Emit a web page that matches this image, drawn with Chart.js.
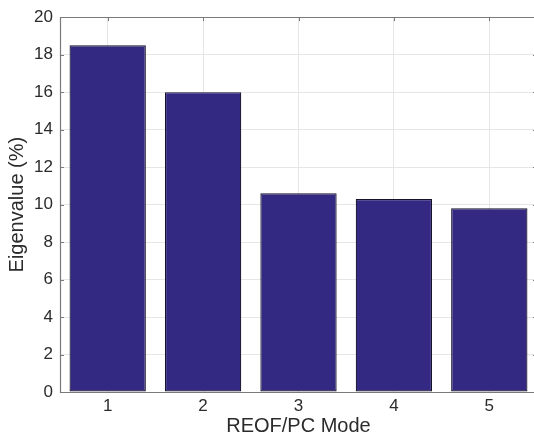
<!DOCTYPE html>
<html>
<head>
<meta charset="utf-8">
<script src="https://cdn.jsdelivr.net/npm/chart.js@4"></script>
<style>
html,body{margin:0;padding:0;overflow:hidden;background:#fff;}
#wrap{position:absolute;left:0;top:0;width:537px;height:441px;}
</style>
</head>
<body>
<div id="wrap"><canvas id="c"></canvas></div>
<script>
const categories = ['1', '2', '3', '4', '5'];
const eigenvalues = [18.5, 16.0, 10.6, 10.3, 9.8];
const yTicks = [0, 2, 4, 6, 8, 10, 12, 14, 16, 18, 20];
const xTitle = 'REOF/PC Mode';
const yTitle = 'Eigenvalue (%)';

const FONT = "'Liberation Sans', Arial, Helvetica, sans-serif";
const TXT = '#2b2b2b';
const FRAME = '#7a7a7a';

const framePlugin = {
  id: 'frame',
  afterDatasetsDraw(chart) {
    const {ctx, chartArea: a, scales: {x, y}} = chart;
    ctx.save();
    ctx.strokeStyle = FRAME;
    ctx.lineWidth = 1;
    ctx.beginPath();
    yTicks.forEach(v => {
      const py = Math.round(y.getPixelForValue(v)) + 0.5;
      ctx.moveTo(a.left, py); ctx.lineTo(a.left + 4, py);
      ctx.moveTo(a.right, py); ctx.lineTo(a.right - 4, py);
    });
    categories.forEach((c, i) => {
      const px = Math.round(x.getPixelForValue(i)) + 0.5;
      ctx.moveTo(px, a.top); ctx.lineTo(px, a.top + 4);
    });
    ctx.stroke();
    ctx.beginPath();
    ctx.lineWidth = 1.2;
    ctx.rect(Math.round(a.left) + 0.5, Math.round(a.top) + 0.5,
             Math.round(a.right - a.left), Math.round(a.bottom - a.top));
    ctx.stroke();
    ctx.restore();
  }
};

new Chart(document.getElementById('c'), {
  type: 'bar',
  data: {
    labels: categories,
    datasets: [{
      data: eigenvalues,
      backgroundColor: '#332983',
      borderColor: '#15122a',
      borderWidth: 1.2,
      borderSkipped: false,
      categoryPercentage: 0.8,
      barPercentage: 1.0
    }]
  },
  options: {
    responsive: true,
    maintainAspectRatio: false,
    animation: false,
    devicePixelRatio: 1,
    layout: {padding: {top: 14, right: 0, bottom: 0, left: 0}},
    plugins: {legend: {display: false}, tooltip: {enabled: false}},
    scales: {
      x: {
        grid: {display: true, color: '#e6e6e6', drawTicks: false, offset: false},
        border: {display: false},
        ticks: {color: TXT, font: {family: FONT, size: 17}, padding: 4, maxRotation: 0},
        title: {display: true, text: xTitle, color: TXT, font: {family: FONT, size: 20}, padding: {top: 3, bottom: 3}},
        afterFit(s) { s.height = 49; }
      },
      y: {
        min: 0, max: 20,
        afterBuildTicks(s) { s.ticks = yTicks.map(v => ({value: v})); },
        grid: {color: '#e6e6e6', drawTicks: false},
        border: {display: false},
        ticks: {color: TXT, font: {family: FONT, size: 17}, padding: 7},
        title: {display: true, text: yTitle, color: TXT, font: {family: FONT, size: 20}, padding: {top: 5.5, bottom: 3}},
        afterFit(s) { s.width = 60; }
      }
    }
  },
  plugins: [framePlugin]
});
</script>
</body>
</html>
